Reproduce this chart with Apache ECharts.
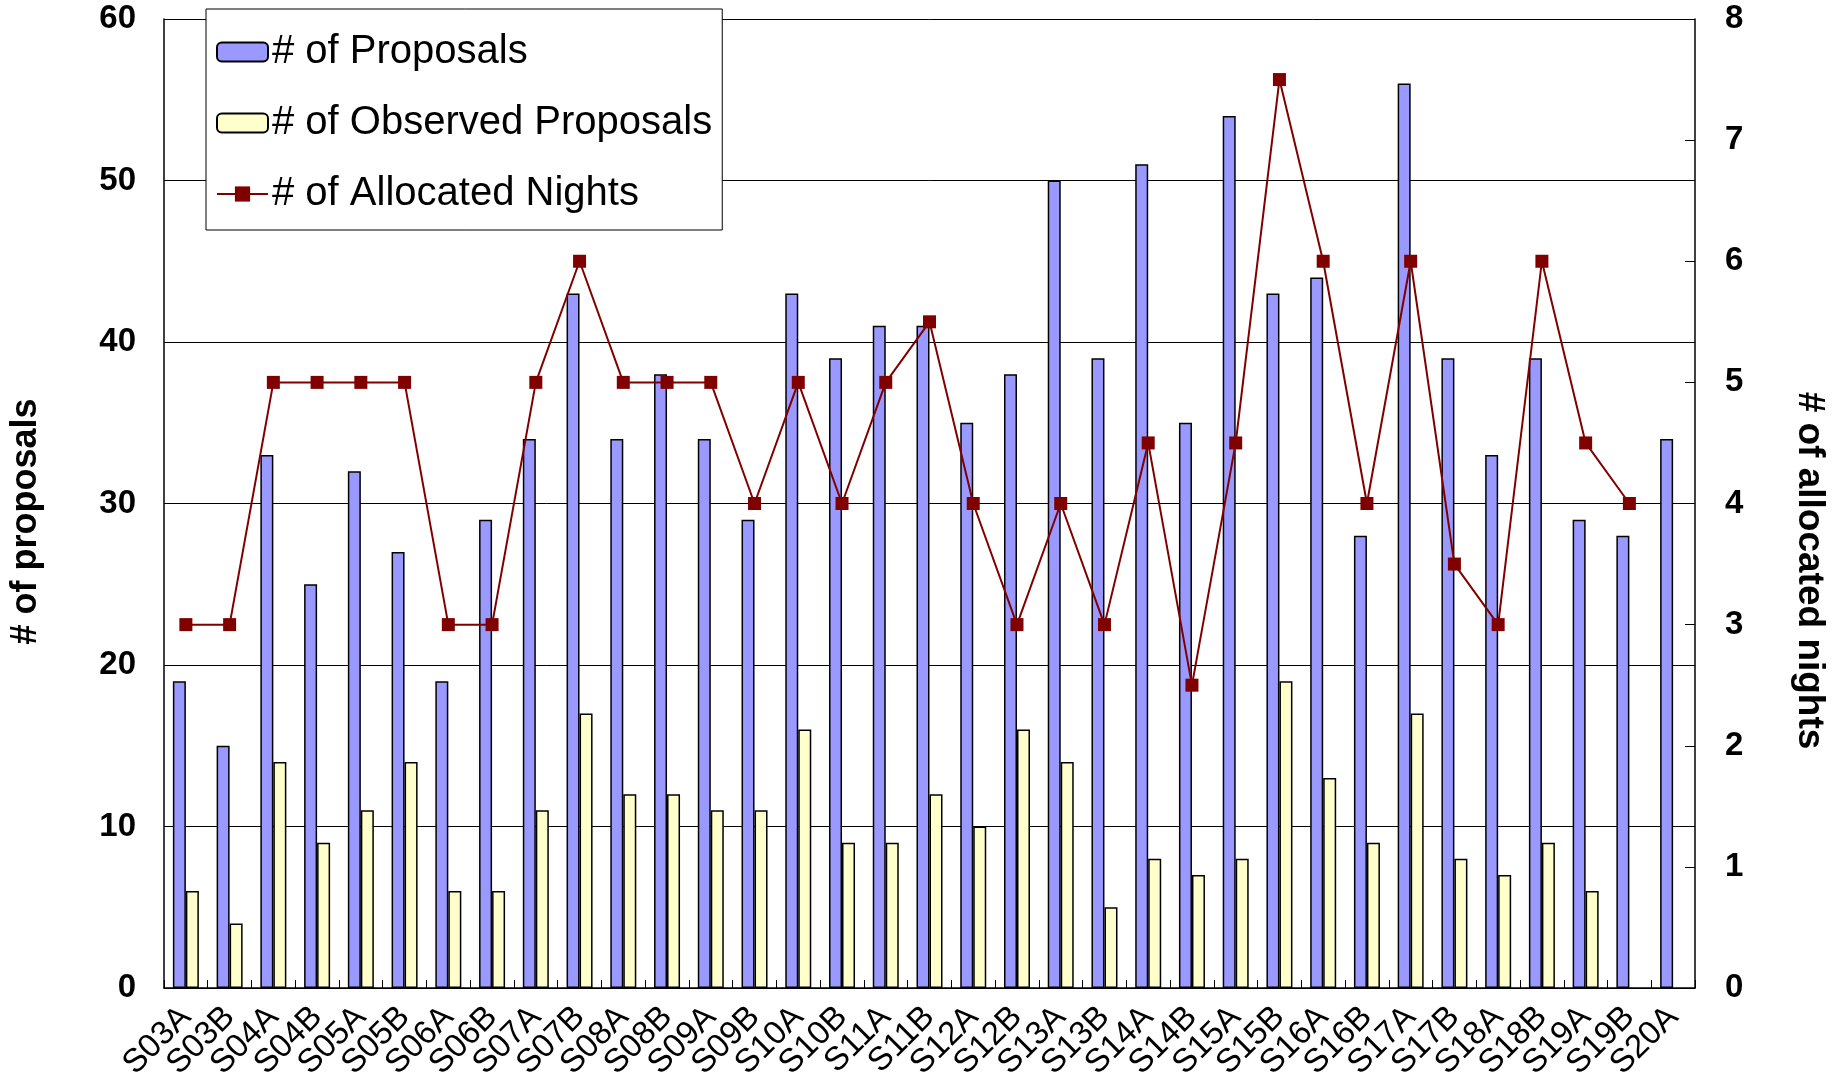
<!DOCTYPE html>
<html><head><meta charset="utf-8">
<script src="https://cdn.jsdelivr.net/npm/echarts@6/dist/echarts.min.js"></script>
<style>html,body{margin:0;padding:0;background:#fff}#c{width:1837px;height:1084px}</style>
</head><body><div id="c"></div>
<script>
const categories = ['S03A','S03B','S04A','S04B','S05A','S05B','S06A','S06B','S07A','S07B','S08A','S08B','S09A','S09B','S10A','S10B','S11A','S11B','S12A','S12B','S13A','S13B','S14A','S14B','S15A','S15B','S16A','S16B','S17A','S17B','S18A','S18B','S19A','S19B','S20A'];
const proposals = [19,15,33,25,32,27,19,29,34,43,34,38,34,29,43,39,41,41,35,38,50,39,51,35,54,43,44,28,56,39,33,39,29,28,34];
const observed = [6,4,14,9,11,14,6,6,11,17,12,12,11,11,16,9,9,12,10,16,14,5,8,7,8,19,13,9,17,8,7,9,6,null,null];
const nights = [3,3,5,5,5,5,3,3,5,6,5,5,5,4,5,4,5,5.5,4,3,4,3,4.5,2.5,4.5,7.5,6,4,6,3.5,3,6,4.5,4,null];

const chart = echarts.init(document.getElementById('c'));
const sans = 'Liberation Sans, Arial';
const tickFont = {fontFamily:sans, fontWeight:'bold', fontSize:33, color:'#000', padding:[7,0,0,0]};
chart.setOption({
  animation:false,
  backgroundColor:'#fff',
  grid:{left:164, right:142, top:19, bottom:96, containLabel:false},
  legend:{
    orient:'vertical', left:206, top:9, padding:[23,10,16,10],
    backgroundColor:'#fff', borderColor:'#000', borderWidth:1,
    itemWidth:51, itemHeight:19, itemGap:31,
    textStyle:{fontFamily:sans, fontSize:40, color:'#000', padding:[0,0,0,-1]},
    data:[{name:'# of Proposals'},{name:'# of Observed Proposals'},{name:'# of Allocated Nights'}]
  },
  xAxis:{
    type:'category', data:categories, boundaryGap:true,
    axisLine:{lineStyle:{color:'#000', width:1.5}},
    axisTick:{show:true, inside:true, length:8, lineStyle:{color:'#000'}},
    axisLabel:{rotate:45, interval:0, fontFamily:sans, fontSize:33, color:'#000', margin:24}
  },
  yAxis:[
    {type:'value', min:0, max:60, interval:10,
     axisLine:{show:true, lineStyle:{color:'#000', width:1.5}},
     axisTick:{show:false},
     splitLine:{lineStyle:{color:'#000', width:1}},
     axisLabel:Object.assign({margin:28}, tickFont),
     name:'# of proposals', nameLocation:'middle', nameGap:120, nameRotate:90,
     nameTextStyle:{fontFamily:sans, fontWeight:'bold', fontSize:36, color:'#000', padding:[0,36,0,0]}},
    {type:'value', min:0, max:8, interval:1, position:'right',
     axisLine:{show:true, lineStyle:{color:'#000', width:1.5}},
     axisTick:{show:true, inside:true, length:10, lineStyle:{color:'#000'}},
     splitLine:{show:false},
     axisLabel:Object.assign({margin:30}, tickFont),
     name:'# of allocated nights', nameLocation:'middle', nameGap:96, nameRotate:-90,
     nameTextStyle:{fontFamily:sans, fontWeight:'bold', fontSize:37, color:'#000', padding:[0,0,0,134]}}
  ],
  series:[
    {name:'# of Proposals', type:'bar', data:proposals, barWidth:13, barGap:'0%',
     itemStyle:{color:'#9999FF', borderColor:'#000', borderWidth:1.5}},
    {name:'# of Observed Proposals', type:'bar', data:observed, barWidth:13, barGap:'0%',
     itemStyle:{color:'#FFFFCC', borderColor:'#000', borderWidth:1.5}},
    {name:'# of Allocated Nights', type:'line', yAxisIndex:1, data:nights,
     symbol:'rect', symbolSize:13, connectNulls:false,
     lineStyle:{color:'#800000', width:2}, itemStyle:{color:'#800000'}}
  ]
});
</script></body></html>
